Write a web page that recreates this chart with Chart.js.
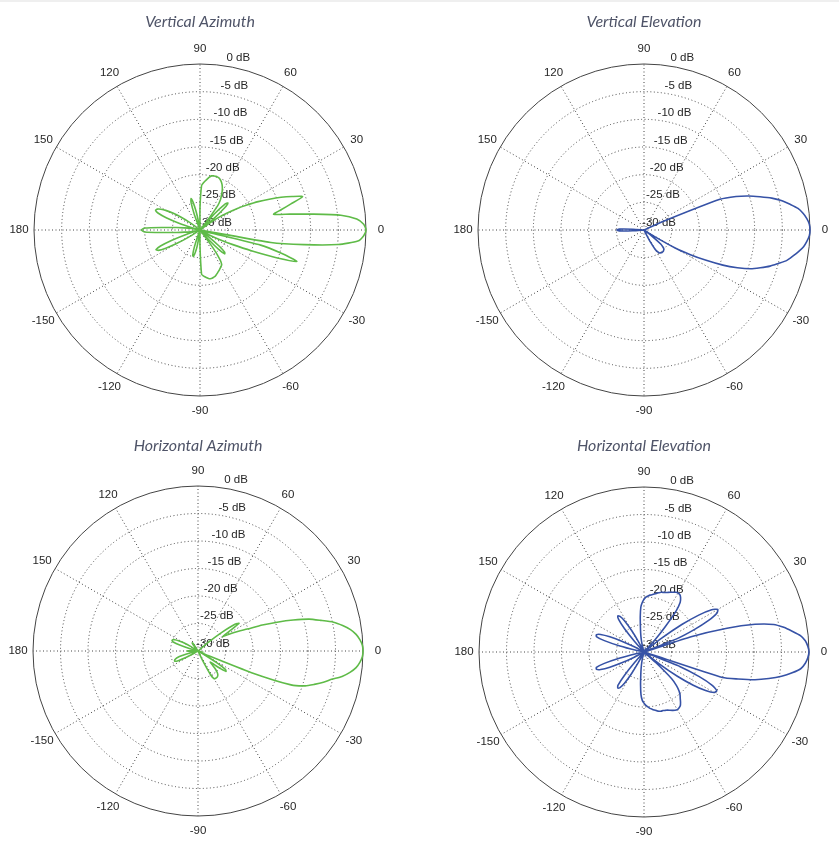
<!DOCTYPE html>
<html lang="en">
<head>
<meta charset="UTF-8">
<title>Antenna radiation patterns</title>
<script src="https://cdn.jsdelivr.net/npm/chart.js"></script>
<style>
  body { margin: 0; background: #fff; }
  .page { position: relative; width: 839px; height: 851px; overflow: hidden; background: #fff; }
  .page canvas { position: absolute; }
  .topline { position: absolute; left: 0; top: 0; width: 839px; height: 2px; background: #efefef; }
</style>
</head>
<body>
<div class="page">
  <div class="topline"></div>
  <canvas id="vaz" width="420" height="420" style="left:0;top:0"></canvas>
  <canvas id="vel" width="419" height="420" style="left:420px;top:0"></canvas>
  <canvas id="haz" width="420" height="431" style="left:0;top:420px"></canvas>
  <canvas id="hel" width="419" height="431" style="left:420px;top:420px"></canvas>
</div>
<script>
// samples every 2 degrees, counter-clockwise from 0 (0, 2, 4 ... 358), in dB
const STEP = 2;
const angleTicks = [0, 30, 60, 90, 120, 150, 180, -150, -120, -90, -60, -30];
const dbTicks = [0, -5, -10, -15, -20, -25, -30];

const vertAz = [
  0, -0.4, -1.6, -4.4, -9.4, -13.5, -16.4, -14.9, -12.9, -10.5,
  -12.3, -14.2, -16.3, -18.3, -20.4, -22.2, -24.2, -26, -28, -30,
  -26.5, -24, -23, -23.5, -26, -30, -28, -24.5, -23.4, -22.7,
  -22, -21.4, -20.9, -20.5, -20.2, -20, -19.9, -19.9, -19.9, -20,
  -20.3, -20.7, -21.1, -21.5, -22, -26, -30, -30, -30, -30,
  -28.5, -26.5, -24.8, -24.1, -24.8, -27, -30, -30, -30, -30,
  -30, -30, -30, -30, -30, -30, -30, -30, -30, -30,
  -30, -29, -27.5, -25.8, -24.2, -23, -22, -21.4, -21.2, -21.8,
  -23.5, -26, -28.5, -30, -30, -28.5, -27.2, -25.7, -23.5, -20,
  -19.4, -20, -23.5, -25.7, -27.2, -28.5, -30, -30, -29, -27,
  -24.5, -22.3, -21.3, -21.6, -23, -25, -27.5, -30, -30, -30,
  -30, -30, -30, -30, -30, -30, -30, -30, -30, -30,
  -30, -30, -30, -30, -30, -28.5, -26.5, -25.2, -25.1, -25.8,
  -27, -29, -30, -30, -30, -27, -22, -21.7, -21.5, -21.3,
  -21.1, -21, -21, -21.1, -21.2, -21.4, -21.6, -21.8, -22, -22.2,
  -22.4, -22.6, -23.5, -26, -30, -30, -27.5, -25, -23.8, -24,
  -25.5, -28, -30, -30, -30, -30, -28, -26, -23.5, -20,
  -15.5, -11.6, -14.7, -18.7, -30, -17, -11, -4.9, -1.4, -0.4
];

const vertEl = [
  0, -0.1, -0.5, -1.1, -1.9, -3.2, -4.5, -6.2, -8.2, -10.1,
  -12.3, -15.2, -26, -30, -30, -30, -30, -30, -30, -30,
  -30, -30, -30, -30, -30, -30, -30, -30, -30, -30,
  -30, -30, -30, -30, -30, -30, -30, -30, -30, -30,
  -30, -30, -30, -30, -30, -30, -30, -30, -30, -30,
  -30, -30, -30, -30, -30, -30, -30, -30, -30, -30,
  -30, -30, -30, -30, -30, -30, -30, -30, -30, -30,
  -30, -30, -30, -30, -30, -30, -30, -30, -30, -30,
  -30, -30, -30, -30, -30, -30, -30, -30, -28, -25.5,
  -25.1, -25.5, -28, -30, -30, -30, -30, -30, -30, -30,
  -30, -30, -30, -30, -30, -30, -30, -30, -30, -30,
  -30, -30, -30, -30, -30, -30, -30, -30, -30, -30,
  -30, -30, -30, -30, -30, -30, -30, -30, -30, -30,
  -30, -30, -30, -30, -30, -30, -30, -30, -30, -30,
  -30, -30, -30, -30, -30, -30, -30, -30, -30, -27.5,
  -26, -25.4, -25, -24.9, -24.8, -24.8, -24.8, -24.9, -25, -25.4,
  -26, -28, -30, -30, -28, -23.5, -20.5, -17.5, -14.4, -11.8,
  -9.5, -7.9, -6.3, -5, -3.6, -2.7, -1.8, -1, -0.5, -0.1
];

const horAz = [
  0, -0.1, -0.5, -1.1, -2, -3.3, -4.8, -7, -9, -11.8,
  -14.7, -17.4, -20.2, -21.8, -23.2, -24.8, -23.5, -21, -21.8, -24.5,
  -27.5, -30, -30, -30, -30, -30, -30, -30, -30, -30,
  -30, -30, -30, -30, -30, -30, -30, -30, -30, -30,
  -30, -30, -30, -30, -30, -30, -30, -30, -30, -30,
  -30, -30, -30, -30, -30, -30, -30, -30, -30, -30,
  -30, -29, -28.2, -28.2, -29, -30, -30, -30, -30, -30,
  -30, -30, -30, -30, -28.5, -27, -26, -25.3, -25, -24.9,
  -25.2, -26.5, -28.5, -30, -30, -30, -30, -30, -29, -28.3,
  -28, -28.3, -29, -30, -30, -30, -30, -28.5, -27, -26,
  -25.6, -25.4, -25.4, -26, -27.5, -29, -30, -30, -30, -30,
  -30, -30, -30, -30, -30, -30, -30, -30, -30, -30,
  -30, -30, -30, -30, -30, -30, -30, -30, -30, -30,
  -30, -30, -30, -30, -30, -30, -30, -30, -30, -30,
  -30, -30, -30, -30, -30, -30, -30, -30, -28, -25,
  -24.2, -24.1, -24.1, -24.1, -24.2, -24.4, -24.8, -25.5, -26.5, -27,
  -26.2, -24.8, -23.7, -24, -26, -29, -30, -30, -28, -19.5,
  -12, -9.5, -8, -6.5, -5.2, -3.4, -2.1, -1.1, -0.5, -0.1
];

const horEl = [
  0, -0.2, -0.6, -1.4, -2.8, -4.2, -5.9, -9.2, -14.3, -21,
  -30, -23.5, -20, -17, -15, -14.5, -15.5, -18, -21.5, -26,
  -30, -30, -30, -30, -27, -24, -20.5, -18.8, -18.1, -17.7,
  -17.6, -17.7, -17.9, -18.1, -18.3, -18.5, -18.6, -18.7, -18.9, -19.1,
  -19.3, -19.5, -19.6, -19.8, -20, -20.4, -21, -21.8, -23.5, -25.3,
  -26.5, -27.5, -28.5, -29.3, -30, -30, -30, -30, -30, -28,
  -25.5, -23.3, -22.2, -21.9, -22.5, -24.5, -27.5, -30, -30, -30,
  -30, -30, -30, -30, -30, -30, -28, -25.5, -23.2, -21.5,
  -20.8, -20.9, -22.5, -25.5, -28.5, -30, -30, -30, -30, -30,
  -30, -30, -30, -30, -30, -30, -28.5, -25.5, -22.5, -20.9,
  -20.8, -21.5, -23.2, -25.5, -28, -30, -30, -30, -30, -30,
  -30, -30, -30, -30, -27.5, -24.5, -22.3, -21.9, -22.2, -23.3,
  -25.5, -28, -30, -30, -30, -30, -30, -30, -29, -28,
  -27, -25.8, -24, -22.2, -21.2, -20.7, -20.3, -20, -19.7, -19.5,
  -19.3, -19.1, -18.9, -18.8, -18.8, -18.7, -18.6, -18.4, -18.2, -18,
  -17.9, -18, -18.2, -18.7, -19.3, -19.8, -20.5, -21.5, -23, -27,
  -30, -26.5, -22.5, -19.2, -16.8, -15.3, -15, -16.2, -19, -23,
  -30, -15, -12.2, -9.2, -6.8, -4.6, -2.8, -1.3, -0.6, -0.2
];

const GREEN = '#5fbb48';
const BLUE = '#3652a6';
const GRID = '#444';

// radar draws clockwise from the start angle, the plots run counter-clockwise
function toRadar(values) {
  const n = values.length;
  return values.map((v, i) => values[(n - i) % n]);
}
function angleIndex(a) {
  return ((360 - a) % 360) / STEP;
}
const labels = vertAz.map((v, i) => {
  const a = (360 - i * STEP) % 360;
  return a > 180 ? a - 360 : a;
});

const polarLabels = {
  id: 'polarLabels',
  beforeDatasetsDraw(chart) {
    const s = chart.scales.r;
    const ctx = chart.ctx;
    ctx.save();
    ctx.font = '11.5px "Liberation Sans", Arial, sans-serif';
    ctx.fillStyle = '#262626';
    ctx.textAlign = 'center';
    ctx.textBaseline = 'middle';
    angleTicks.forEach(a => {
      const p = s.getPointPosition(angleIndex(a), s.drawingArea + 15);
      ctx.fillText(String(a), p.x, p.y);
    });
    // dB labels sit along a ray a little right of the 90 line
    dbTicks.forEach(v => {
      const r = s.getDistanceFromCenterForValue(v);
      ctx.fillText(v + ' dB', s.xCenter + 15 + 0.14 * r, s.yCenter - 0.99 * r - 7.5);
    });
    ctx.restore();
  }
};

function makeChart(id, title, values, color, pad, titlePad) {
  return new Chart(document.getElementById(id), {
    type: 'radar',
    data: {
      labels: labels,
      datasets: [{
        data: toRadar(values),
        borderColor: color,
        borderWidth: 1.6,
        pointRadius: 0,
        pointHoverRadius: 0,
        fill: false,
        tension: 0.2
      }]
    },
    options: {
      responsive: false,
      animation: false,
      events: [],
      layout: { padding: pad },
      plugins: {
        legend: { display: false },
        tooltip: { enabled: false },
        title: {
          display: true,
          text: title,
          color: '#4f5468',
          font: { family: 'Lato', size: 16, style: 'italic', weight: 'normal', lineHeight: 1.2 },
          padding: titlePad
        }
      },
      scales: {
        r: {
          min: -30,
          max: 0,
          startAngle: 90,
          ticks: { display: false, stepSize: 5 },
          pointLabels: { display: false },
          grid: {
            circular: true,
            color: GRID,
            lineWidth: 1,
            borderDash: ctx => (ctx.tick && ctx.tick.value === 0 ? [] : [1, 2.5])
          },
          border: {
            dash: ctx => (ctx.tick && ctx.tick.value === 0 ? [] : [1, 2.5])
          },
          angleLines: {
            color: GRID,
            lineWidth: ctx => (ctx.index % 15 === 0 ? 1 : 0),
            borderDash: [1, 2.5]
          }
        }
      }
    },
    plugins: [polarLabels]
  });
}

makeChart('vaz', 'Vertical Azimuth', vertAz, GREEN,
  { left: 34, right: 54, top: 0, bottom: 24 }, { top: 12.4, bottom: 32.4 });
makeChart('vel', 'Vertical Elevation', vertEl, BLUE,
  { left: 58, right: 29, top: 0, bottom: 24 }, { top: 12.4, bottom: 32.4 });
makeChart('haz', 'Horizontal Azimuth', horAz, GREEN,
  { left: 33, right: 57, top: 0, bottom: 35 }, { top: 16.1, bottom: 30.7 });
makeChart('hel', 'Horizontal Elevation', horEl, BLUE,
  { left: 59, right: 30, top: 0, bottom: 34 }, { top: 16.1, bottom: 31.7 });
</script>
</body>
</html>
